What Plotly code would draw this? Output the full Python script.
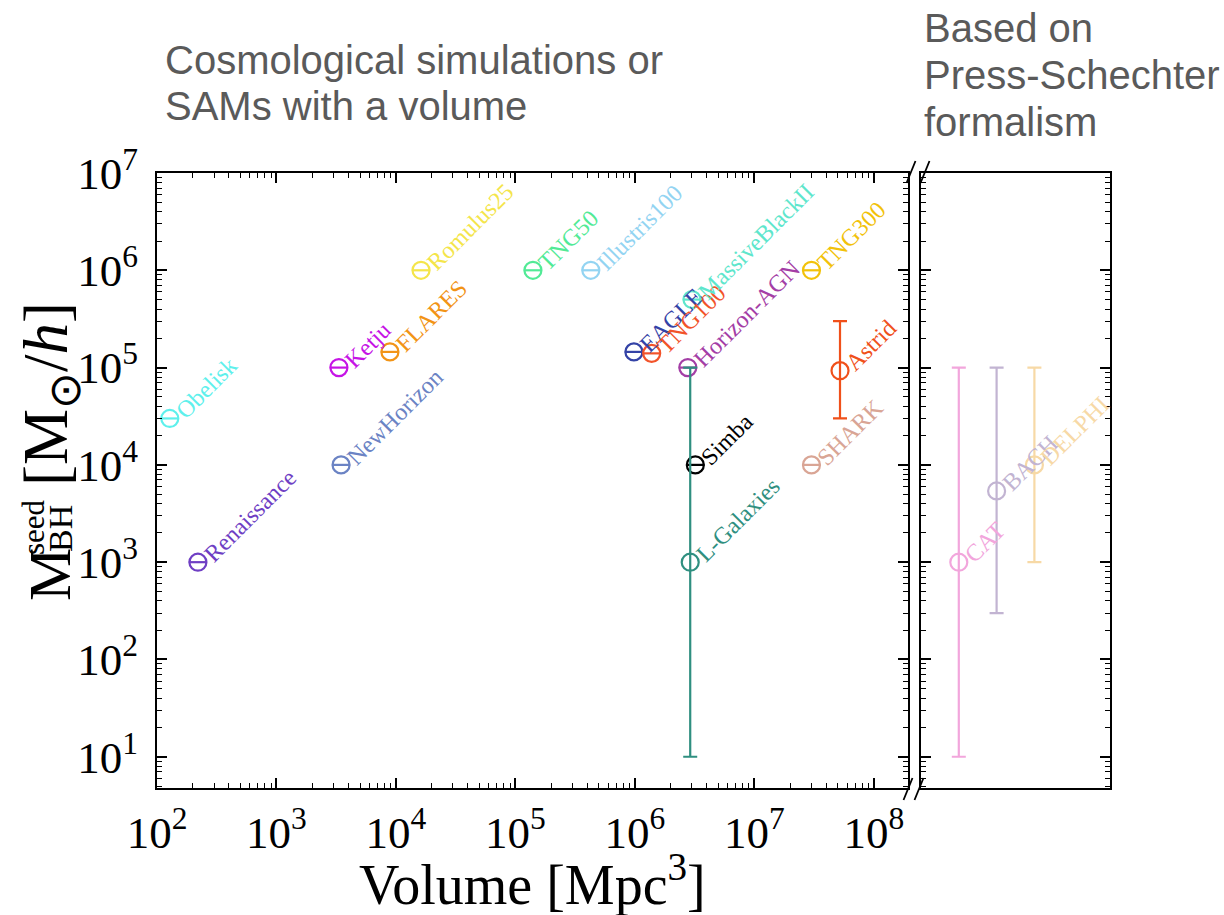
import plotly.graph_objects as go
import numpy as np

# ---------------- data ----------------
sim_names = ["Obelisk", "Renaissance", "NewHorizon", "Ketju", "FLARES", "Romulus25",
             "TNG50", "Illustris100", "EAGLE", "TNG100", "MassiveBlackII",
             "Horizon-AGN", "Simba", "L-Galaxies", "TNG300", "Astrid", "SHARK"]
sim_volume = [1.28e2, 2.2e2, 3.47e3, 3.33e3, 8.9e3, 1.62e4,
              1.4e5, 4.27e5, 9.8e5, 1.38e6, 3.0e6,
              2.77e6, 3.2e6, 2.9e6, 3.0e7, 5.2e7, 3.0e7]
sim_seed = [3e4, 1e3, 1e4, 1e5, 1.45e5, 1e6,
            1e6, 1e6, 1.45e5, 1.4e5, 5e5,
            1e5, 1e4, 1e3, 1e6, 9.3e4, 1e4]
sim_err_low = [None, None, None, None, None, None,
               None, None, None, None, None,
               None, None, 1e1, None, 3e4, None]
sim_err_high = [None, None, None, None, None, None,
                None, None, None, None, None,
                None, None, 1e5, None, 3e5, None]
sim_colors = ["#5ef0ec", "#6f3fc4", "#6b83c4", "#c614e6", "#f29416", "#f4e54a",
              "#52ea96", "#93d4f2", "#3443a6", "#f2532a", "#5ee6cc",
              "#a43ea6", "#000000", "#2f8f80", "#f2c20a", "#f0501a", "#d9a595"]

ps_names = ["CAT", "BACH", "DELPHI"]
ps_seed = [1e3, 5.4e3, 1e4]
ps_err_low = [1e1, 3e2, 1e3]
ps_err_high = [1e5, 1e5, 1e5]
ps_colors = ["#f2a6dc", "#c2b4d2", "#f7d9a6"]

x_tick_vals = [1e2, 1e3, 1e4, 1e5, 1e6, 1e7, 1e8]
x_tick_text = ["10<sup>2</sup>", "10<sup>3</sup>", "10<sup>4</sup>", "10<sup>5</sup>",
               "10<sup>6</sup>", "10<sup>7</sup>", "10<sup>8</sup>"]
y_tick_vals = [1e1, 1e2, 1e3, 1e4, 1e5, 1e6, 1e7]
y_tick_text = ["10<sup>1</sup>", "10<sup>2</sup>", "10<sup>3</sup>", "10<sup>4</sup>",
               "10<sup>5</sup>", "10<sup>6</sup>", "10<sup>7</sup>"]

header_left = ["Cosmological simulations or", "SAMs with a volume"]
header_right = ["Based on", "Press-Schechter", "formalism"]

# ---------------- figure ----------------
W, H = 1224, 915
SERIF = "Liberation Serif, Times New Roman, serif"
fig = go.Figure()


def add_point(xv, yv, color, lo, hi, xa, ya):
    err = None
    if lo is not None:
        err = dict(type="data", symmetric=False, array=[hi - yv], arrayminus=[yv - lo],
                   color=color, thickness=2.2, width=7)
    fig.add_trace(go.Scatter(
        x=[xv], y=[yv], mode="markers", xaxis=xa, yaxis=ya, showlegend=False,
        marker=dict(symbol="circle-open", size=17, color=color, line=dict(width=2.2, color=color)),
        error_y=err, hoverinfo="skip"))
    if lo is None:
        fig.add_trace(go.Scatter(
            x=[xv], y=[yv], mode="markers", xaxis=xa, yaxis=ya, showlegend=False,
            marker=dict(symbol="line-ew", size=13, color=color, line=dict(width=2.2, color=color)),
            hoverinfo="skip"))


for n, v, s, c, lo, hi in zip(sim_names, sim_volume, sim_seed, sim_colors, sim_err_low, sim_err_high):
    add_point(v, s, c, lo, hi, "x", "y")
for n, s, c, lo, hi in zip(ps_names, ps_seed, ps_colors, ps_err_low, ps_err_high):
    add_point(n, s, c, lo, hi, "x2", "y2")

annotations = []
for n, v, s, c in zip(sim_names, sim_volume, sim_seed, sim_colors):
    annotations.append(dict(x=np.log10(v), y=np.log10(s), xref="x", yref="y", text=n,
                            showarrow=False, textangle=-45, xanchor="left", yanchor="bottom",
                            xshift=-2, yshift=-8, font=dict(family=SERIF, size=24, color=c)))
for n, s, c in zip(ps_names, ps_seed, ps_colors):
    annotations.append(dict(x=n, y=np.log10(s), xref="x2", yref="y2", text=n,
                            showarrow=False, textangle=-45, xanchor="left", yanchor="bottom",
                            xshift=-2, yshift=-8, font=dict(family=SERIF, size=24, color=c)))

# axis titles
annotations.append(dict(x=532 / W, y=1 - 880 / H, xref="paper", yref="paper",
                        xanchor="center", yanchor="middle",
                        text="Volume [Mpc<sup>3</sup>]", showarrow=False,
                        font=dict(family=SERIF, size=56, color="black")))
annotations.append(dict(x=50 / W, y=1 - 394 / H, xref="paper", yref="paper", textangle=-90,
                        xanchor="center", yanchor="middle",
                        text="[M<sub>⊙</sub>/<i>h</i>]", showarrow=False,
                        font=dict(family=SERIF, size=63, color="black")))
annotations.append(dict(x=50 / W, y=1 - 575 / H, xref="paper", yref="paper", textangle=-90,
                        xanchor="center", yanchor="middle",
                        text="M", showarrow=False,
                        font=dict(family=SERIF, size=60, color="black")))
annotations.append(dict(x=60 / W, y=1 - 529 / H, xref="paper", yref="paper", textangle=-90,
                        xanchor="center", yanchor="middle",
                        text="BH", showarrow=False,
                        font=dict(family=SERIF, size=34, color="black")))
annotations.append(dict(x=33 / W, y=1 - 527 / H, xref="paper", yref="paper", textangle=-90,
                        xanchor="center", yanchor="middle",
                        text="seed", showarrow=False,
                        font=dict(family=SERIF, size=31, color="black")))
# panel headers
GREY = "#5a5a5a"
SANS = "Liberation Sans, Arial, sans-serif"
for i, line in enumerate(header_left):
    annotations.append(dict(x=163 / W, y=1 - (60 + 46 * i) / H, xref="paper", yref="paper",
                            xanchor="left", yanchor="middle", align="left", showarrow=False,
                            text=line, font=dict(family=SANS, size=40, color=GREY)))
for i, line in enumerate(header_right):
    annotations.append(dict(x=922 / W, y=1 - (28 + 47 * i) / H, xref="paper", yref="paper",
                            xanchor="left", yanchor="middle", align="left", showarrow=False,
                            text=line, font=dict(family=SANS, size=40, color=GREY)))

# break marks
shapes = []
for cx, cy in [(911, 172), (925, 172), (908, 789), (919, 789)]:
    shapes.append(dict(type="line", xref="paper", yref="paper",
                       x0=(cx - 4.5) / W, y0=1 - (cy + 11) / H, x1=(cx + 4.5) / W, y1=1 - (cy - 11) / H,
                       line=dict(color="black", width=1.8)))

x_minor = [m * 10 ** k for k in range(2, 9) for m in range(2, 10)]
y_minor = [m * 10 ** k for k in range(0, 7) for m in range(2, 10)]

axis_common = dict(showgrid=False, zeroline=False, showline=True, linecolor="black", linewidth=2,
                   ticks="inside", ticklen=10, tickwidth=1.6, tickcolor="black", mirror="allticks",
                   automargin=False)

fig.update_layout(
    width=W, height=H, margin=dict(l=0, r=0, t=0, b=0, autoexpand=False),
    paper_bgcolor="white", plot_bgcolor="white", showlegend=False,
    xaxis=dict(type="log", range=[2, 8.285], domain=[157 / W, 908 / W], anchor="y",
               tickmode="array", tickvals=x_tick_vals, ticktext=x_tick_text,
               tickfont=dict(family=SERIF, size=45, color="black"), ticklabelstandoff=4,
               minor=dict(tickmode="array", tickvals=x_minor, ticks="inside", ticklen=5,
                          tickwidth=1.3, tickcolor="black"),
               **axis_common),
    yaxis=dict(type="log", range=[0.679, 7], domain=[1 - 788 / H, 1 - 173 / H], anchor="x",
               tickmode="array", tickvals=y_tick_vals, ticktext=y_tick_text,
               tickfont=dict(family=SERIF, size=45, color="black"), ticklabelstandoff=8,
               minor=dict(tickmode="array", tickvals=y_minor, ticks="inside", ticklen=5,
                          tickwidth=1.3, tickcolor="black"),
               **axis_common),
    xaxis2=dict(type="category", categoryorder="array", categoryarray=ps_names, range=[-1, 4],
                domain=[921 / W, 1110 / W], anchor="y2", showticklabels=False,
                showgrid=False, zeroline=False, showline=True, linecolor="black", linewidth=2,
                ticks="", mirror=True, automargin=False),
    yaxis2=dict(type="log", range=[0.679, 7], domain=[1 - 788 / H, 1 - 173 / H], anchor="x2",
                tickmode="array", tickvals=y_tick_vals, showticklabels=False,
                minor=dict(tickmode="array", tickvals=y_minor, ticks="inside", ticklen=5,
                           tickwidth=1.3, tickcolor="black"),
                **axis_common),
    annotations=annotations, shapes=shapes,
)

fig.write_html("out.html")
